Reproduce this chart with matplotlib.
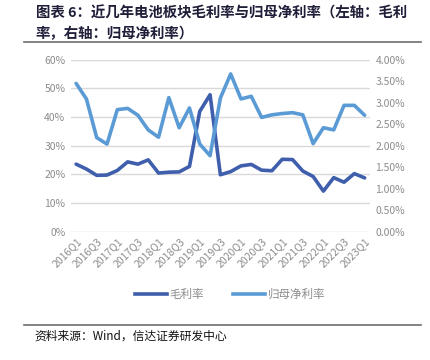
import numpy as np
import matplotlib.pyplot as plt
from matplotlib.lines import Line2D
from matplotlib.ticker import FuncFormatter

plt.rcParams['font.family'] = ['Noto Sans CJK SC', 'DejaVu Sans']

quarters = [f"{y}Q{q}" for y in range(2016, 2023) for q in range(1, 5)] + ["2023Q1"]
gross_margin = [23.6, 21.9, 19.7, 19.8, 21.4, 24.4, 23.6, 25.1, 20.5, 20.8,
                20.9, 22.8, 42.0, 47.8, 19.9, 21.0, 23.0, 23.5, 21.5, 21.3,
                25.3, 25.2, 21.2, 19.3, 14.2, 18.9, 17.3, 20.3, 18.8]
net_margin = [3.45, 3.09, 2.19, 2.04, 2.84, 2.87, 2.71, 2.37, 2.20, 3.12,
              2.42, 2.88, 2.04, 1.77, 3.11, 3.67, 3.09, 3.15, 2.66, 2.72,
              2.75, 2.77, 2.72, 2.05, 2.42, 2.37, 2.94, 2.94, 2.71]

dark = "#3F5FAD"
light = "#5B9BD5"
grey = "#8C8C8C"

fig = plt.figure(figsize=(4.3, 3.6), dpi=100)
ax = fig.add_axes([0.165, 0.356, 0.695, 0.478])
ax2 = ax.twinx()

x = np.arange(len(quarters))
ax.plot(x, gross_margin, color=dark, lw=2.6, solid_capstyle='round', zorder=3)
ax2.plot(x, net_margin, color=light, lw=2.6, solid_capstyle='round', zorder=3)

ax.set_xlim(-0.5, len(quarters) - 0.5)
ax.set_ylim(0, 60)
ax2.set_ylim(0, 4)
ax.set_yticks(np.arange(0, 61, 10))
ax2.set_yticks(np.arange(0, 4.01, 0.5))
ax.yaxis.set_major_formatter(FuncFormatter(lambda v, p: f"{v:.0f}%"))
ax2.yaxis.set_major_formatter(FuncFormatter(lambda v, p: f"{v:.2f}%"))
ax.grid(axis='y', color='#D9D9D9', lw=1)
ax.set_axisbelow(True)

ax.set_xticks(x[::2])
ax.set_xticklabels(quarters[::2], rotation=45, ha='right', rotation_mode='anchor')
for a in (ax, ax2):
    for s in a.spines.values():
        s.set_visible(False)
    a.tick_params(length=0, colors=grey, labelsize=7.5, pad=4)
ax.tick_params(axis='x', pad=3)

handles = [Line2D([], [], color=dark, lw=2.6), Line2D([], [], color=light, lw=2.6)]
fig.legend(handles, ["毛利率", "归母净利率"], loc='center', bbox_to_anchor=(0.535, 0.183),
           ncol=2, frameon=False, fontsize=8.3, handlelength=2.8, handletextpad=0.2,
           columnspacing=2.5, labelcolor=grey)

fig.text(0.083, 0.962, "图表 6：近几年电池板块毛利率与归母净利率（左轴：毛利", fontsize=10.4,
         fontweight='bold', color='#1F1F3A', va='center')
fig.text(0.083, 0.905, "率，右轴：归母净利率）", fontsize=10.4, fontweight='bold',
         color='#1F1F3A', va='center')
fig.add_artist(Line2D([0.056, 0.978], [0.883, 0.883], color='#6E6E6E', lw=1.2))
fig.add_artist(Line2D([0.056, 0.978], [0.097, 0.097], color='#6E6E6E', lw=1.2))
fig.text(0.081, 0.067, "资料来源：Wind，信达证券研发中心", fontsize=8.5, style='italic',
         color='#111111', va='center')

fig.savefig("out.png", dpi=100)
